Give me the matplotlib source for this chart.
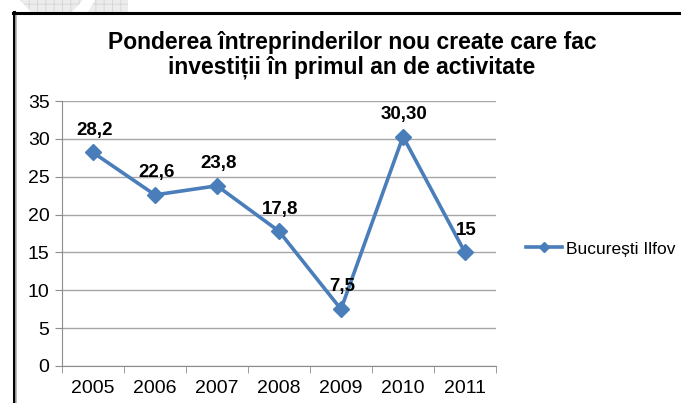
import numpy as np
import matplotlib.pyplot as plt
from matplotlib.lines import Line2D
from matplotlib.patches import Polygon

plt.rcParams["font.family"] = ["Liberation Sans", "DejaVu Sans"]
plt.rcParams["hatch.linewidth"] = 0.6

# data
years = ["2005", "2006", "2007", "2008", "2009", "2010", "2011"]
values = [28.2, 22.6, 23.8, 17.8, 7.5, 30.3, 15]
value_labels = ["28,2", "22,6", "23,8", "17,8", "7,5", "30,30", "15"]
series_name = "București Ilfov"
title = "Ponderea întreprinderilor nou create care fac\ninvestiții în primul an de activitate"

W, H = 681, 403
fig = plt.figure(figsize=(W / 100, H / 100), dpi=100)

# faint watermark shapes at the top edge
for pts in ([(20, 0), (83, 0), (72, 12), (31, 12)], [(95, 0), (128, 0), (128, 12), (88, 12)]):
    fig.patches.append(Polygon([(x / W, 1 - y / H) for x, y in pts], closed=True,
                               transform=fig.transFigure, facecolor="#ececec",
                               edgecolor="#d4d4d4", lw=0, hatch="++", zorder=0))

# black frame (left and top), running off the right/bottom edges
fig.lines.append(Line2D([13.5 / W, 13.5 / W], [1 - 12 / H, 0], transform=fig.transFigure,
                        color="black", lw=2.2))
fig.lines.append(Line2D([16 / W, 16 / W], [1 - 14 / H, 0], transform=fig.transFigure,
                        color="#b0b0b0", lw=1.2))
fig.lines.append(Line2D([12.5 / W, 1], [1 - 13 / H, 1 - 13 / H], transform=fig.transFigure,
                        color="black", lw=2.2))

ax = fig.add_axes([62 / W, 1 - 366 / H, (496 - 62) / W, (366 - 101) / H])
x = np.arange(len(years))

ax.plot(x, values, color="#4a7ebb", lw=2.6, marker="D", markersize=8.5,
        markeredgecolor="#4a7ebb", label=series_name, zorder=3)

for xi, v, lab in zip(x, values, value_labels):
    ax.annotate(lab, (xi, v), xytext=(1, 16), textcoords="offset points",
                ha="center", va="center", fontsize=13.5, fontweight="bold", zorder=4)

ax.set_xlim(-0.5, len(years) - 0.5)
ax.set_ylim(0, 35)
ax.set_yticks(np.arange(0, 36, 5))
ax.set_xticks(x)
ax.set_xticklabels(years)
ax.set_xticks(np.arange(-0.5, len(years), 1), minor=True)
ax.tick_params(axis="x", which="major", length=0, pad=10, labelsize=14)
ax.tick_params(axis="x", which="minor", length=5, color="#8c8c8c")
ax.tick_params(axis="y", length=5, color="#8c8c8c", pad=4, labelsize=14)

ax.grid(axis="y", color="#a6a6a6", lw=1)
ax.set_axisbelow(True)
for s in ("top", "right"):
    ax.spines[s].set_visible(False)
for s in ("left", "bottom"):
    ax.spines[s].set_color("#8c8c8c")

fig.text(352 / W, 1 - 55 / H, title, ha="center", va="center", fontsize=16.5,
         fontweight="bold", linespacing=1.05)

fig.legend(loc="center left", bbox_to_anchor=(526 / W, 1 - 249 / H), frameon=False,
           fontsize=12.5, handlelength=2.1, handletextpad=0.2, borderaxespad=0,
           borderpad=0, markerscale=0.6)

fig.savefig("out.png", dpi=100)
